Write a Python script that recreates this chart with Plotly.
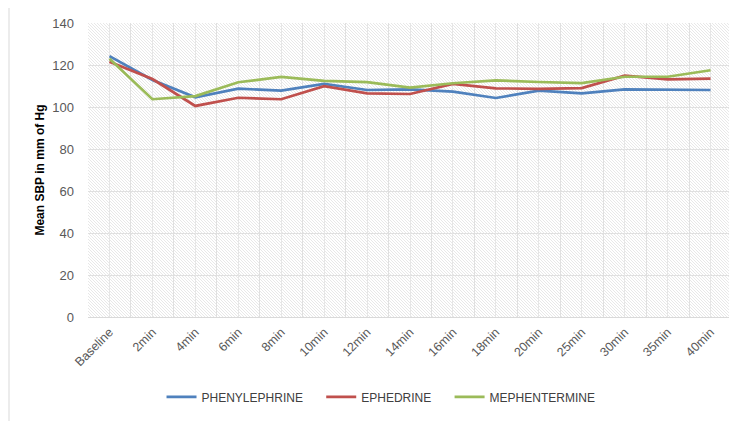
import plotly.graph_objects as go
import base64

categories = ["Baseline", "2min", "4min", "6min", "8min", "10min", "12min", "14min",
              "16min", "18min", "20min", "25min", "30min", "35min", "40min"]
phenylephrine = [124.2, 112.9, 104.6, 108.7, 107.8, 111.0, 108.1, 108.4,
                 107.3, 104.3, 107.8, 106.5, 108.4, 108.4, 108.1]
ephedrine = [121.6, 113.3, 100.5, 104.4, 103.7, 109.9, 106.5, 106.2,
             111.0, 108.9, 108.6, 109.0, 114.9, 113.2, 113.5]
mephentermine = [123.0, 103.7, 105.2, 111.8, 114.3, 112.4, 111.8, 109.2,
                 111.3, 112.7, 111.9, 111.4, 114.4, 114.4, 117.5]
series_names = ["PHENYLEPHRINE", "EPHEDRINE", "MEPHENTERMINE"]
y_ticks = [0, 20, 40, 60, 80, 100, 120, 140]

W, H = 737, 421
OFF = 8  # page offset of the plot div in the browser
PW, PH = 644, 294
L, T = 88 - OFF, 23 - OFF
R, B = W - L - PW, H - T - PH

# hatched background pattern (decoration only)
svg = (
    f"<svg xmlns='http://www.w3.org/2000/svg' width='{PW}' height='{PH}'>"
    "<defs><pattern id='p' width='3' height='3' patternUnits='userSpaceOnUse'>"
    "<rect width='3' height='3' fill='white'/>"
    "<path d='M-1,-1 L4,4 M2,-1 L4,1 M-1,2 L1,4' stroke='#D8D8D8' stroke-width='0.6'/>"
    "</pattern></defs>"
    f"<rect width='{PW}' height='{PH}' fill='url(#p)'/></svg>"
)
src = "data:image/svg+xml;base64," + base64.b64encode(svg.encode()).decode()

font_main = "Liberation Sans, Arial, sans-serif"
pad = "\u00a0" * 4

fig = go.Figure()
series = [(series_names[0] + pad, phenylephrine, "#4F81BD"),
          (series_names[1] + pad, ephedrine, "#C0504D"),
          (series_names[2], mephentermine, "#9BBB59")]
for name, vals, col in series:
    fig.add_trace(go.Scatter(x=categories, y=vals, name=name, mode="lines",
                             line=dict(color=col, width=2.7)))
# invisible helper trace on the overlay axis to draw category-centred gridlines
fig.add_trace(go.Scatter(x=categories, y=phenylephrine, xaxis="x2", mode="lines",
                         line=dict(width=0, color="rgba(0,0,0,0)"),
                         showlegend=False, hoverinfo="skip"))

fig.update_layout(
    width=W, height=H,
    margin=dict(l=L, r=R, t=T, b=B, autoexpand=False),
    paper_bgcolor="white",
    plot_bgcolor="rgba(0,0,0,0)",
    font=dict(family=font_main, color="#595959", size=12),
    showlegend=True,
    legend=dict(orientation="h", x=0.455, xanchor="center", y=-0.272, yanchor="middle",
                font=dict(family=font_main, size=12, color="#404040"),
                itemwidth=30),
    xaxis=dict(type="category", categoryorder="array", categoryarray=categories,
               range=[-0.5, len(categories) - 0.5], tickson="boundaries",
               showgrid=True, gridcolor="#E0E0E0", gridwidth=1,
               showline=True, linecolor="#D9D9D9", ticks="", tickangle=-45,
               tickfont=dict(family=font_main, size=12.5, color="#595959"),
               ticklabelstandoff=2, zeroline=False, automargin=False),
    xaxis2=dict(type="category", categoryorder="array", categoryarray=categories,
                range=[-0.5, len(categories) - 0.5], overlaying="x",
                showgrid=True, gridcolor="#E6E6E6", gridwidth=1,
                showticklabels=False, ticks="", showline=False, zeroline=False),
    yaxis=dict(range=[0, 140], tickvals=y_ticks, showgrid=True, gridcolor="#E0E0E0",
               gridwidth=1, zeroline=False, showline=False, ticks="",
               tickfont=dict(family=font_main, size=13, color="#595959"),
               ticklabelstandoff=13, automargin=False,
               title=dict(text="<b>Mean SBP in mm of Hg</b>",
                          font=dict(family=font_main, size=12, color="#000000"),
                          standoff=5)),
    images=[dict(source=src, xref="paper", yref="paper", x=0, y=1, sizex=1, sizey=1,
                 xanchor="left", yanchor="top", sizing="stretch", layer="below")],
    shapes=[dict(type="rect", xref="paper", yref="paper",
                 x0=(9 - OFF - L) / PW, x1=1.05, y0=-0.5, y1=1 + (T - (5 - OFF)) / PH,
                 line=dict(color="#D9D9D9", width=1), fillcolor="rgba(0,0,0,0)",
                 layer="below")],
)

fig.write_html("out.html")
